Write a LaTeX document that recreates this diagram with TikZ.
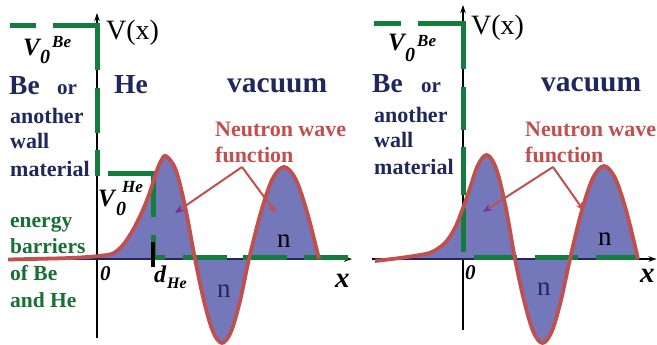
\documentclass[tikz,border=0pt]{standalone}
\usepackage{fontspec}
\setmainfont{Liberation Serif}
\usetikzlibrary{arrows.meta}
\definecolor{barrier}{RGB}{18,125,60}
\definecolor{gtext}{RGB}{22,112,52}
\definecolor{navy}{RGB}{31,40,94}
\definecolor{wred}{RGB}{192,80,77}
\definecolor{wfill}{RGB}{116,120,186}
\definecolor{apurple}{RGB}{112,48,160}
\newcommand{\fs}[1]{\fontsize{#1}{#1}\selectfont}
\tikzset{
  lbl/.style={inner sep=0pt, anchor=base west},
  axisline/.style={line width=1.5pt, black, -{Stealth[length=8pt,width=5.5pt]}},
  barr/.style={line width=5pt, barrier, line cap=butt, line join=miter},
  wave/.style={line width=3.8pt, wred, line join=round},
  wavearea/.style={fill=wfill},
  pointer/.style={line width=2pt, wred, -{Stealth[length=9pt,width=7pt]}},
  pointerp/.style={line width=2pt, wred, -{Stealth[length=9pt,width=7pt,color=apurple]}},
  hdr/.style={lbl, font=\bfseries, text=navy},
  red lbl/.style={lbl, font=\bfseries, text=wred},
}
\begin{document}
\begin{tikzpicture}[x=1pt,y=-1pt]
\useasboundingbox (0,0) rectangle (657,345);

% ================= LEFT PANEL =================
\coordinate (LxA) at (8,259);
\coordinate (LxB) at (352,259);
\coordinate (LvA) at (97,338);
\coordinate (LvB) at (97,13);
\draw[axisline] (LxA) -- (LxB);
\draw[axisline] (LvA) -- (LvB);

\fill[wavearea] plot[smooth, tension=0.55] coordinates {(8,259.5) (40,258.8) (70,258) (90,256.8) (103,255.5) (113,253.5) (123,245) (133,230) (142,212) (150,192) (156,173) (161,161) (166,156) (175.7,169.8) (185.3,207.5) (195,259) (204,301) (213,331.7) (222,343) (231,331.7) (240,301) (249,259) (260.7,213) (272.3,179.3) (284,167) (295.7,179.3) (307.3,213) (319,259)} -- (8,259.5) -- cycle;
\draw[navy, line width=1.2pt] (8,259) -- (319,259);

% barriers
\draw[barr] (10,26) -- (36,26);
\draw[barr] (53,26) -- (97.5,26) -- (97.5,70);
\draw[barr] (97.5,88) -- (97.5,133);
\draw[barr] (97.5,150) -- (97.5,176);
\draw[barr] (108,173.5) -- (153,173.5) -- (153,217);
\draw[barr] (153,235) -- (153,257.5) -- (165,257.5);
\draw[barr] (183,257.5) -- (227,257.5);
\draw[barr] (243,257.5) -- (287,257.5);
\draw[barr] (304,257.5) -- (348,257.5);

\draw[wave] plot[smooth, tension=0.55] coordinates {(8,259.5) (40,258.8) (70,258) (90,256.8) (103,255.5) (113,253.5) (123,245) (133,230) (142,212) (150,192) (156,173) (161,161) (166,156) (175.7,169.8) (185.3,207.5) (195,259) (204,301) (213,331.7) (222,343) (231,331.7) (240,301) (249,259) (260.7,213) (272.3,179.3) (284,167) (295.7,179.3) (307.3,213) (319,259)};

\coordinate (dT) at (153,242);
\coordinate (dB) at (153,267);
\draw[line width=4pt, black] (dT) -- (dB);

% pointers
\coordinate (Lvx) at (242,167);
\coordinate (LtA) at (175,213);
\coordinate (LtB) at (276,213);
\draw[pointerp] (Lvx) -- (LtA);
\draw[pointer] (Lvx) -- (LtB);

% labels
\node[lbl, font=\fs{28}] (LVx) at (106,40) {V(x)};
\node[lbl, font=\fs{25}\bfseries\itshape] (LV0) at (23,56) {V};
\node[lbl, font=\fs{20}\bfseries\itshape] (LV0s) at (40,64) {0};
\node[lbl, font=\fs{17}\bfseries\itshape] (LV0b) at (52,48) {Be};
\node[hdr, font=\fs{27.5}\bfseries] (LBe) at (9,95) {Be};
\node[hdr, font=\fs{21}\bfseries] (Lor) at (57,95) {or};
\node[hdr, font=\fs{22}\bfseries] (Lan) at (10,124) {another};
\node[hdr, font=\fs{22}\bfseries] (Lwa) at (10,149) {wall};
\node[hdr, font=\fs{22}\bfseries] (Lma) at (10,176) {material};
\node[hdr, font=\fs{27.5}\bfseries] (LHe) at (114,94) {He};
\node[hdr, font=\fs{29.5}\bfseries] (Lvac) at (227,93) {vacuum};
\node[red lbl, font=\fs{22}\bfseries] (LNw) at (215,137) {Neutron wave};
\node[red lbl, font=\fs{22}\bfseries] (Lfn) at (215,163) {function};
\node[lbl, font=\fs{25}\bfseries\itshape] (LVH) at (98,206) {V};
\node[lbl, font=\fs{20}\bfseries\itshape] (LVHs) at (116,215) {0};
\node[lbl, font=\fs{17}\bfseries\itshape] (LVHh) at (122,193) {He};
\node[lbl, font=\fs{21.5}\bfseries, text=gtext] (Leb1) at (10,227) {energy};
\node[lbl, font=\fs{21.5}\bfseries, text=gtext] (Leb2) at (10,253) {barriers};
\node[lbl, font=\fs{21.5}\bfseries, text=gtext] (Leb3) at (10,280) {of Be};
\node[lbl, font=\fs{21.5}\bfseries, text=gtext] (Leb4) at (10,307) {and He};
\node[lbl, font=\fs{21}\bfseries\itshape] (L0) at (100,280) {0};
\node[lbl, font=\fs{24}\bfseries\itshape] (Ld) at (154,282) {d};
\node[lbl, font=\fs{16}\bfseries\itshape] (Ldh) at (167,288) {He};
\node[lbl, font=\fs{29}\bfseries\itshape] (Lxl) at (335,287) {x};
\node[lbl, font=\fs{27}] (Ln1) at (277,247) {n};
\node[lbl, font=\fs{27}, text=navy] (Ln2) at (217,297) {n};

% ================= RIGHT PANEL =================
\coordinate (RxA) at (372,259);
\coordinate (RxB) at (656.5,259);
\coordinate (RvA) at (463,330);
\coordinate (RvB) at (463,5);
\draw[axisline] (RxA) -- (RxB);
\draw[axisline] (RvA) -- (RvB);

\fill[wavearea] plot[smooth, tension=0.55] coordinates {(375,261) (400,258) (420,255) (432,252) (445,243) (455,228) (463,208) (470,188) (478,165) (487,155) (496.3,169) (505.7,207) (515,259) (524.2,301) (533.3,331.7) (542.5,343) (551.7,331.7) (560.8,301) (570,259) (581.3,212.5) (592.7,178.5) (604,166) (615.3,178.5) (626.7,212.5) (638,259)} -- (375,259) -- cycle;
\draw[navy, line width=1.2pt] (375,259) -- (638,259);

\draw[barr] (374,24) -- (401,24);
\draw[barr] (418,24) -- (463,24) -- (463,69);
\draw[barr] (463,87) -- (463,130);
\draw[barr] (463,147) -- (463,195);
\draw[barr] (463,208) -- (463,252);
\draw[barr] (474,257.5) -- (517,257.5);
\draw[barr] (535,257.5) -- (578,257.5);
\draw[barr] (596,257.5) -- (639,257.5);

\draw[wave] plot[smooth, tension=0.55] coordinates {(375,261) (400,258) (420,255) (432,252) (445,243) (455,228) (463,208) (470,188) (478,165) (487,155) (496.3,169) (505.7,207) (515,259) (524.2,301) (533.3,331.7) (542.5,343) (551.7,331.7) (560.8,301) (570,259) (581.3,212.5) (592.7,178.5) (604,166) (615.3,178.5) (626.7,212.5) (638,259)};

\coordinate (Rvx) at (553,167);
\coordinate (RtA) at (483,212);
\coordinate (RtB) at (584,211);
\draw[pointerp] (Rvx) -- (RtA);
\draw[pointer] (Rvx) -- (RtB);

\node[lbl, font=\fs{28}] (RVx) at (471,35) {V(x)};
\node[lbl, font=\fs{25}\bfseries\itshape] (RV0) at (388,51) {V};
\node[lbl, font=\fs{20}\bfseries\itshape] (RV0s) at (405,62) {0};
\node[lbl, font=\fs{17}\bfseries\itshape] (RV0b) at (417,47) {Be};
\node[hdr, font=\fs{27.5}\bfseries] (RBe) at (372,93) {Be};
\node[hdr, font=\fs{21}\bfseries] (Ror) at (421,93) {or};
\node[hdr, font=\fs{22}\bfseries] (Ran) at (374,123) {another};
\node[hdr, font=\fs{22}\bfseries] (Rwa) at (374,148) {wall};
\node[hdr, font=\fs{22}\bfseries] (Rma) at (374,175) {material};
\node[hdr, font=\fs{29.5}\bfseries] (Rvac) at (541,92) {vacuum};
\node[red lbl, font=\fs{22}\bfseries] (RNw) at (525,137) {Neutron wave};
\node[red lbl, font=\fs{22}\bfseries] (Rfn) at (525,162) {function};
\node[lbl, font=\fs{21}\bfseries\itshape] (R0) at (465,279) {0};
\node[lbl, font=\fs{29}\bfseries\itshape] (Rxl) at (640,282) {x};
\node[lbl, font=\fs{27}] (Rn1) at (598,245) {n};
\node[lbl, font=\fs{27}, text=navy] (Rn2) at (537,295) {n};
\end{tikzpicture}
\end{document}
